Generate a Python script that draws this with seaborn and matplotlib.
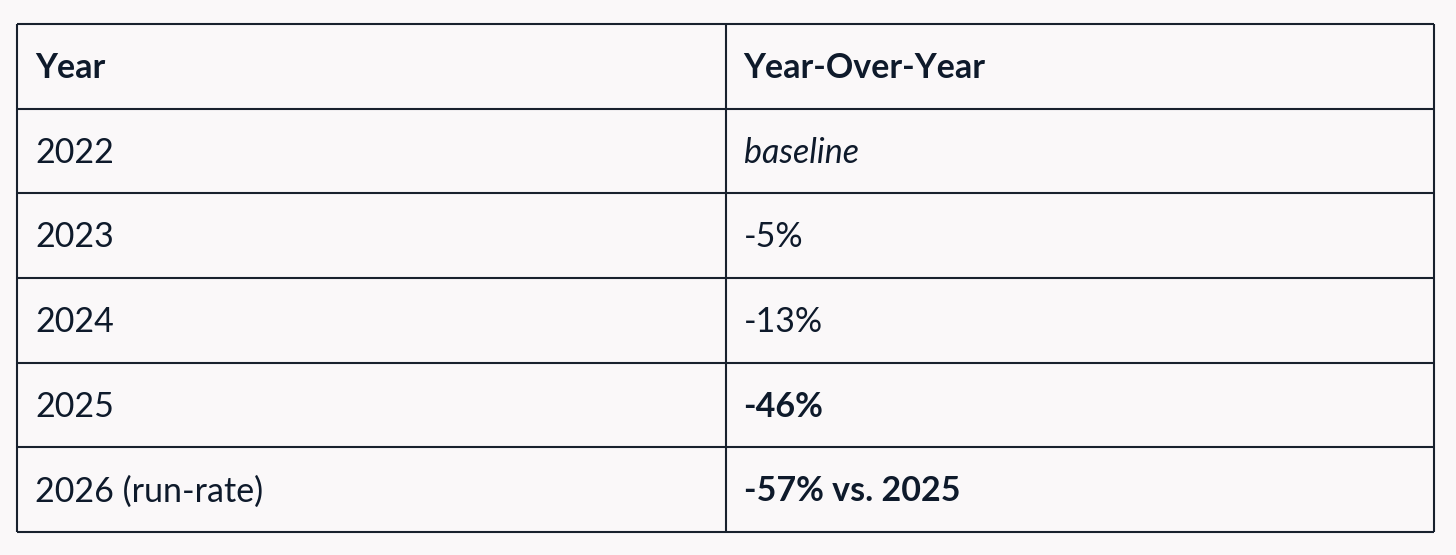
import matplotlib
matplotlib.use("Agg")
import matplotlib.pyplot as plt
import seaborn as sns

# Data
header = ["Year", "Year-Over-Year"]
years = ["2022", "2023", "2024", "2025", "2026 (run-rate)"]
yoy = ["baseline", "-5%", "-13%", "-46%", "-57% vs. 2025"]
yoy_style = ["italic", "normal", "normal", "bold", "bold"]

BG = "#FAF8F9"
INK = "#0E1A2B"
LINE = "#18212E"

sns.set_theme(style="white")
plt.rcParams["font.family"] = ["Lato", "DejaVu Sans"]

W, H = 1456, 555
fig = plt.figure(figsize=(W / 100, H / 100), dpi=100, facecolor=BG)
left, right, top, bottom = 17, 1434, 24, 532
ax = fig.add_axes([left / W, (H - bottom) / H, (right - left) / W, (bottom - top) / H])
ax.set_facecolor(BG)

nrows = len(years) + 1
ncols = len(header)
ax.set_xlim(0, ncols)
ax.set_ylim(nrows, 0)
ax.axis("off")

# Grid lines
ax.hlines(range(nrows + 1), 0, ncols, color=LINE, lw=1.5, clip_on=False)
ax.vlines(range(ncols + 1), 0, nrows, color=LINE, lw=1.5, clip_on=False)

fs = 24.5
pad = 0.0255
for c, h in enumerate(header):
    ax.text(c + pad, 0.52, h, ha="left", va="center", fontsize=fs,
            fontweight="bold", color=INK)

for r, (y, v, st) in enumerate(zip(years, yoy, yoy_style), start=1):
    ax.text(0 + pad, r + 0.52, y, ha="left", va="center", fontsize=fs, color=INK)
    kw = {}
    if st == "italic":
        kw["fontstyle"] = "italic"
    elif st == "bold":
        kw["fontweight"] = "bold"
    ax.text(1 + pad, r + 0.52, v, ha="left", va="center", fontsize=fs, color=INK, **kw)

fig.savefig("out.png", dpi=100, facecolor=BG)
